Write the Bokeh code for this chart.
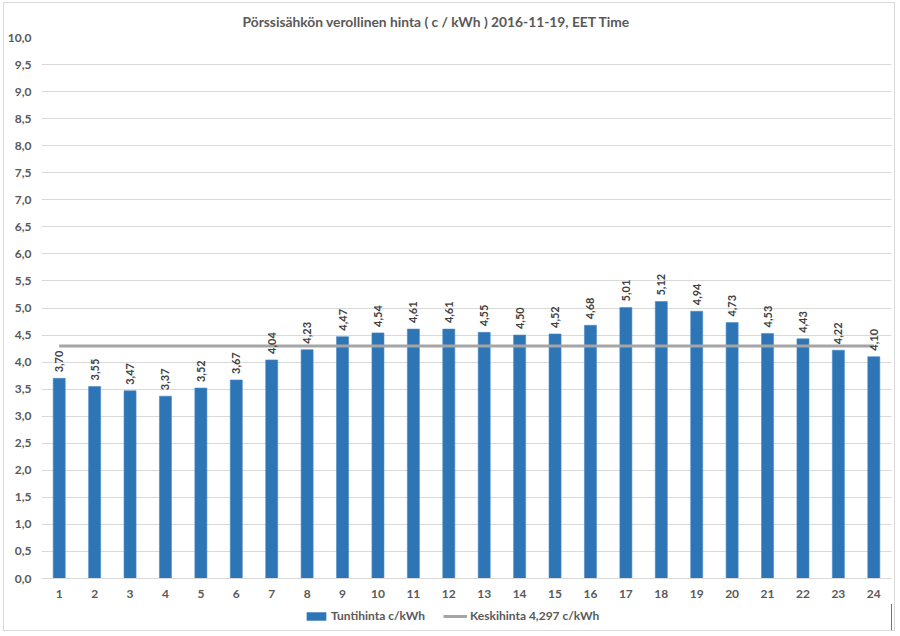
from bokeh.plotting import figure
from bokeh.layouts import column
from bokeh.models import (Range1d, SingleIntervalTicker, FixedTicker, CustomJSTickFormatter,
                          ColumnDataSource, LabelSet, Legend, LegendItem)
from bokeh.core.properties import value
from bokeh.embed import file_html
from bokeh.resources import INLINE
import math

hours = list(range(1, 25))
prices = [3.70, 3.55, 3.47, 3.37, 3.52, 3.67, 4.04, 4.23, 4.47, 4.54, 4.61, 4.61,
          4.55, 4.50, 4.52, 4.68, 5.01, 5.12, 4.94, 4.73, 4.53, 4.43, 4.22, 4.10]
average = 4.297
title_text = "Pörssisähkön verollinen hinta ( c / kWh ) 2016-11-19, EET Time"
bar_name = "Tuntihinta c/kWh"
avg_name = "Keskihinta 4,297 c/kWh"

FONT = "Lato"
TXT = "#595959"
BAR = "#2E75B6"
BAR_EDGE = "#4A8AC6"
AVG = "#A5A5A5"

labels = [f"{v:.2f}".replace(".", ",") for v in prices]
src = ColumnDataSource(dict(x=hours, y=prices, lab=labels))

p = figure(width=890, height=601, output_backend="svg", toolbar_location=None,
           x_range=Range1d(0.5, 24.5), y_range=Range1d(0, 10),
           min_border_left=37, min_border_right=3, min_border_top=34, min_border_bottom=26)
p.outline_line_color = None
p.background_fill_color = "white"
p.border_fill_color = "white"

p.title.text = title_text
p.title.text_font = FONT
p.title.text_font_size = "13.8px"
p.title.text_font_style = "bold"
p.title.text_color = TXT
p.title.align = "left"
p.title.offset = 201
p.title.standoff = 15

bars = p.vbar(x="x", top="y", width=0.34, source=src, fill_color=BAR,
              line_color=BAR_EDGE, line_width=0.6)
avg_line = p.line(x=[hours[0], hours[-1]], y=[average, average], line_color=AVG,
                  line_width=3)

ls = LabelSet(x="x", y="y", text="lab", source=src, angle=math.pi / 2,
              text_align="left", text_baseline="middle", y_offset=6,
              text_font=value(FONT), text_font_size=value("11px"),
              text_font_style=value("bold"), text_color=value("#404040"))
p.add_layout(ls)

# y axis
p.yaxis.ticker = SingleIntervalTicker(interval=0.5, num_minor_ticks=0)
p.yaxis.formatter = CustomJSTickFormatter(code="return tick.toFixed(1).replace('.', ',');")
p.yaxis.axis_line_color = None
p.yaxis.major_tick_line_color = None
p.yaxis.minor_tick_line_color = None
p.yaxis.major_tick_out = 0
p.yaxis.major_tick_in = 0
p.yaxis.major_label_standoff = 10
p.yaxis.major_label_text_font = FONT
p.yaxis.major_label_text_font_size = "12px"
p.yaxis.major_label_text_font_style = "bold"
p.yaxis.major_label_text_color = TXT

# x axis
p.xaxis.ticker = FixedTicker(ticks=hours)
p.xaxis.axis_line_color = "#D9D9D9"
p.xaxis.axis_line_width = 1
p.xaxis.major_tick_line_color = None
p.xaxis.minor_tick_line_color = None
p.xaxis.major_tick_out = 0
p.xaxis.major_tick_in = 0
p.xaxis.major_label_standoff = 11
p.xaxis.major_label_text_font = FONT
p.xaxis.major_label_text_font_size = "12px"
p.xaxis.major_label_text_font_style = "bold"
p.xaxis.major_label_text_color = TXT

p.xgrid.grid_line_color = None
p.ygrid.grid_line_color = "#D9D9D9"
p.ygrid.grid_line_width = 1

# legend strip below the chart (its glyphs lie outside the visible range;
# they only supply the legend swatches)
lg = figure(width=890, height=26, output_backend="svg", toolbar_location=None,
            x_range=Range1d(-10, -9), y_range=Range1d(0, 1),
            min_border_left=0, min_border_right=0, min_border_top=0, min_border_bottom=0)
lg.outline_line_color = None
lg.axis.visible = False
lg.grid.grid_line_color = None
lg.border_fill_color = "white"
lg_bar = lg.vbar(x=hours, top=prices, width=0.34, fill_color=BAR,
                 line_color=BAR_EDGE, line_width=0.6)
lg_line = lg.line(x=[hours[0], hours[-1]], y=[average, average], line_color=AVG,
                  line_width=3)

legend = Legend(items=[LegendItem(label=bar_name, renderers=[lg_bar]),
                       LegendItem(label=avg_name, renderers=[lg_line])],
                orientation="horizontal", location=(263, 7),
                glyph_width=24, glyph_height=10, label_standoff=3, spacing=18,
                padding=3, margin=0, label_height=12,
                border_line_color=None, background_fill_alpha=0,
                label_text_font=FONT, label_text_font_size="12px",
                label_text_font_style="bold", label_text_color=TXT)
lg.add_layout(legend)

layout = column(p, lg, spacing=0)
layout.styles = {"border": "1px solid #D9D9D9", "margin-left": "3px", "margin-top": "2px"}

open("out.html", "w").write(file_html(layout, INLINE))
